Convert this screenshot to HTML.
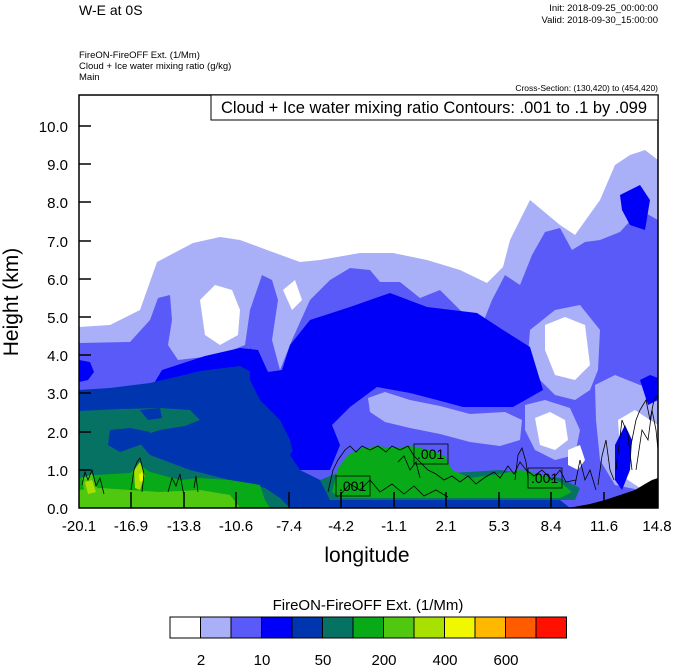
<!DOCTYPE html>
<html><head><meta charset="utf-8"><style>
body{margin:0;background:#fff;}
svg{display:block;font-family:"Liberation Sans",sans-serif;}
</style></head><body>
<svg width="674" height="667" viewBox="0 0 674 667">
<defs><clipPath id="c"><rect x="79" y="95" width="579" height="413"/></clipPath></defs>
<text x="79" y="15" font-size="14">W-E at 0S</text>
<text x="658" y="11" font-size="9.5" text-anchor="end">Init: 2018-09-25_00:00:00</text>
<text x="658" y="23" font-size="9.5" text-anchor="end">Valid: 2018-09-30_15:00:00</text>
<text x="79" y="58" font-size="9.5">FireON-FireOFF Ext.   (1/Mm)</text>
<text x="79" y="69" font-size="9.5">Cloud + Ice water mixing ratio   (g/kg)</text>
<text x="79" y="80" font-size="9.5">Main</text>
<text x="658" y="91" font-size="8.5" text-anchor="end">Cross-Section: (130,420) to (454,420)</text>
<g clip-path="url(#c)">
<polygon fill="#aab0f8" points="79,327 110,325 140,310 157,262 193,243 220,237 240,240 267,250 300,262 320,260 360,253 393,253 427,260 460,270 487,283 503,267 510,240 530,200 560,225 575,235 600,200 615,165 630,155 645,150 658,160 658,508 79,508"/>
<polygon fill="#fff" points="200,300 215,285 232,290 240,310 238,335 220,345 205,335"/>
<polygon fill="#fff" points="352,305 365,290 375,300 372,335 360,340 350,325"/>
<polygon fill="#fff" points="283,290 295,280 302,300 292,310"/>
<polygon fill="#5a5af8" points="79,343 130,342 150,320 158,298 170,295 172,320 168,345 178,360 220,355 245,345 250,310 262,275 272,280 278,300 272,340 280,370 292,340 310,300 330,280 350,268 370,270 380,282 400,282 420,298 440,290 460,310 480,330 492,300 505,275 520,285 532,255 545,232 560,228 572,250 585,242 600,240 620,232 640,210 658,220 658,508 79,508"/>
<!-- right side lavender/white -->
<polygon fill="#aab0f8" points="530,330 555,310 580,305 600,330 598,370 590,390 575,400 555,395 540,380 528,355"/>
<polygon fill="#fff" points="545,325 565,317 585,325 590,365 575,380 555,375 545,350"/>
<polygon fill="#aab0f8" points="525,405 545,400 570,408 580,430 575,455 555,460 535,450 525,430"/>
<polygon fill="#fff" points="535,418 550,412 565,420 568,440 555,450 540,445"/>
<polygon fill="#aab0f8" points="595,385 615,375 640,385 658,390 658,480 640,490 615,485 600,460 596,420"/>
<polygon fill="#fff" points="618,420 635,410 650,420 658,425 658,482 640,488 625,478 620,450"/>
<polygon fill="#fff" points="568,450 580,445 585,460 578,470 568,465"/>
<polygon fill="#0000f8" points="615,445 625,425 632,440 630,470 622,490 615,480"/>
<polygon fill="#0000f8" points="640,380 650,375 658,378 658,400 648,405"/>
<polygon fill="#0000f8" points="79,360 90,362 94,372 88,380 79,382"/>
<polygon fill="#0000f8" points="620,195 640,185 650,200 645,230 630,225 622,210"/>
<!-- main blue -->
<polygon fill="#0000f8" points="79,395 150,390 162,370 205,356 240,348 258,350 268,372 282,370 290,345 310,320 350,307 390,293 427,307 477,313 503,330 530,347 543,390 513,407 463,407 437,400 410,393 377,387 350,407 332,425 340,445 330,470 79,470"/>
<!-- lower middle lavender band -->
<polygon fill="#aab0f8" points="368,398 385,392 410,400 440,406 470,414 505,412 522,420 520,440 500,446 470,442 440,434 410,428 385,422 370,412"/>
<polygon fill="#0035b0" points="79,390 110,388 150,383 180,376 200,371 240,366 258,376 268,395 280,405 295,412 305,425 300,440 290,455 300,470 320,480 330,495 380,497 480,497 560,500 570,508 79,508"/>
<polygon fill="#0000f8" points="250,348 268,372 282,395 300,410 310,420 318,440 305,455 295,462 290,440 280,420 260,400 250,380"/>
<polygon fill="#067264" points="79,411 120,409 160,408 190,410 200,420 185,426 160,430 135,438 150,455 190,470 230,480 265,488 280,498 290,508 79,508"/>
<polygon fill="#0035b0" points="110,430 130,428 150,432 140,445 120,452 108,445"/>
<polygon fill="#0035b0" points="140,410 160,408 162,418 148,420"/>
<polygon fill="#067264" points="320,480 340,472 380,470 420,475 500,470 560,478 580,488 575,500 330,500"/>
<polygon fill="#08aa18" points="79,478 95,475 130,473 140,465 150,472 180,480 200,478 230,480 260,485 265,500 270,508 79,508"/>
<polygon fill="#08aa18" points="332,492 338,468 348,455 362,448 378,446 392,448 410,446 430,450 445,456 452,470 470,478 500,474 520,470 540,474 560,482 572,492 560,498 340,498"/>
<polygon fill="#50c810" points="79,490 100,488 130,490 160,492 200,490 230,495 240,508 79,508"/>
<polygon fill="#50c810" points="82,478 92,474 98,490 85,495"/>
<polygon fill="#a8e000" points="85,482 92,480 96,492 88,494"/>
<polygon fill="#a8e000" points="134,470 140,462 145,475 140,490 135,488"/>
<polygon fill="#f0f800" points="139,475 142,472 144,480 140,482"/>
<polygon fill="#000" points="568,508 590,504 605,500 620,495 635,490 645,484 652,480 658,478 658,508"/>
<g fill="none" stroke="#000" stroke-width="0.8">
<path d="M82,485 L85,472 L88,480 L92,470 L96,486 L100,478 L104,494"/>
<path d="M131,490 L134,470 L137,462 L140,458 L144,474 L142,492"/>
<path d="M168,492 L172,478 L176,486 L180,474 L184,496"/>
<path d="M194,488 L196,476 L198,492"/>
<path d="M328,492 L333,470 L338,460 L345,450 L350,446 L356,452 L362,446 L370,450 L378,446 L386,452 L392,446 L400,450 L408,446 L414,456 L420,462 L428,470 L436,474 L444,480 L452,476 L460,482 L468,476 L476,484 L484,478 L494,472 L500,478 L508,466 L514,474 L520,462 L526,470 L534,476 L542,470 L552,480 L560,470 L566,482 L576,480"/>
<path d="M340,495 L350,484 L360,490 L370,480 L380,492 L392,484 L404,494 L414,486 L424,496 L436,490 L448,497"/>
<path d="M398,462 L404,456 L410,470 L416,462 L420,478"/>
<path d="M515,480 L518,455 L522,448 L526,462 L528,478"/>
<path d="M575,485 L580,460 L585,480 L590,470 L596,490"/>
<path d="M598,485 L602,456 L606,440 L610,470 L614,480"/>
<path d="M616,470 L622,420 L628,435 L632,470"/>
<path d="M630,450 L636,420 L640,410 L646,400 L650,420 L654,400 L658,395"/>
<path d="M636,470 L642,430 L648,440 L652,410 L656,430 L658,450"/>
</g>
<g stroke="#000" stroke-width="0.8" fill="none">
<rect x="336" y="476" width="34" height="20"/>
<rect x="414" y="444" width="34" height="20"/>
<rect x="528" y="468" width="34" height="20"/>
</g>
<g font-size="14" fill="#000">
<text x="339" y="491">.001</text>
<text x="417" y="459">.001</text>
<text x="531" y="483">.001</text>
</g>
</g>
<rect x="79" y="95" width="579" height="413" fill="none" stroke="#000" stroke-width="1.5"/>
<rect x="211" y="95" width="447" height="25" fill="#fff" stroke="#000" stroke-width="1"/>
<text x="434" y="113" font-size="16.5" text-anchor="middle">Cloud + Ice water mixing ratio Contours: .001 to .1 by .099</text>
<g stroke="#000" stroke-width="1.5">
<line x1="79" y1="126" x2="91" y2="126"/><line x1="79" y1="164" x2="91" y2="164"/><line x1="79" y1="202" x2="91" y2="202"/><line x1="79" y1="241" x2="91" y2="241"/><line x1="79" y1="279" x2="91" y2="279"/><line x1="79" y1="317" x2="91" y2="317"/><line x1="79" y1="355" x2="91" y2="355"/><line x1="79" y1="393" x2="91" y2="393"/><line x1="79" y1="432" x2="91" y2="432"/><line x1="79" y1="470" x2="91" y2="470"/>
<line x1="131" y1="508" x2="131" y2="492"/><line x1="184" y1="508" x2="184" y2="492"/><line x1="236" y1="508" x2="236" y2="492"/><line x1="289" y1="508" x2="289" y2="492"/><line x1="341" y1="508" x2="341" y2="492"/><line x1="394" y1="508" x2="394" y2="492"/><line x1="446" y1="508" x2="446" y2="492"/><line x1="499" y1="508" x2="499" y2="492"/><line x1="551" y1="508" x2="551" y2="492"/><line x1="604" y1="508" x2="604" y2="492"/>
</g>
<g font-size="15" text-anchor="end">
<text x="68" y="132">10.0</text><text x="68" y="170">9.0</text><text x="68" y="208">8.0</text><text x="68" y="247">7.0</text><text x="68" y="285">6.0</text><text x="68" y="323">5.0</text><text x="68" y="361">4.0</text><text x="68" y="399">3.0</text><text x="68" y="438">2.0</text><text x="68" y="476">1.0</text><text x="68" y="514">0.0</text>
</g>
<g font-size="15" text-anchor="middle">
<text x="79" y="531">-20.1</text><text x="131" y="531">-16.9</text><text x="184" y="531">-13.8</text><text x="236" y="531">-10.6</text><text x="289" y="531">-7.4</text><text x="341" y="531">-4.2</text><text x="394" y="531">-1.1</text><text x="446" y="531">2.1</text><text x="499" y="531">5.3</text><text x="551" y="531">8.4</text><text x="604" y="531">11.6</text><text x="657" y="531">14.8</text>
</g>
<text x="367" y="562" font-size="21" text-anchor="middle">longitude</text>
<text transform="translate(18,302) rotate(-90)" font-size="21" text-anchor="middle">Height (km)</text>
<text x="368" y="610" font-size="15" text-anchor="middle">FireON-FireOFF Ext.  (1/Mm)</text>
<g stroke="#000" stroke-width="1">
<rect x="170" y="617" width="30.5" height="21" fill="#fff"/>
<rect x="200.5" y="617" width="30.5" height="21" fill="#aab0f8"/>
<rect x="231" y="617" width="30.5" height="21" fill="#5a5af8"/>
<rect x="261.5" y="617" width="30.5" height="21" fill="#0000f8"/>
<rect x="292" y="617" width="30.5" height="21" fill="#0035b0"/>
<rect x="322.5" y="617" width="30.5" height="21" fill="#067264"/>
<rect x="353" y="617" width="30.5" height="21" fill="#08aa18"/>
<rect x="383.5" y="617" width="30.5" height="21" fill="#50c810"/>
<rect x="414" y="617" width="30.5" height="21" fill="#a8e000"/>
<rect x="444.5" y="617" width="30.5" height="21" fill="#f0f800"/>
<rect x="475" y="617" width="30.5" height="21" fill="#ffb800"/>
<rect x="505.5" y="617" width="30.5" height="21" fill="#ff5c00"/>
<rect x="536" y="617" width="30.5" height="21" fill="#ff1000"/>
</g>
<g font-size="15" text-anchor="middle">
<text x="201" y="665">2</text><text x="262" y="665">10</text><text x="323" y="665">50</text><text x="384" y="665">200</text><text x="445" y="665">400</text><text x="506" y="665">600</text>
</g>
</svg>
</body></html>
